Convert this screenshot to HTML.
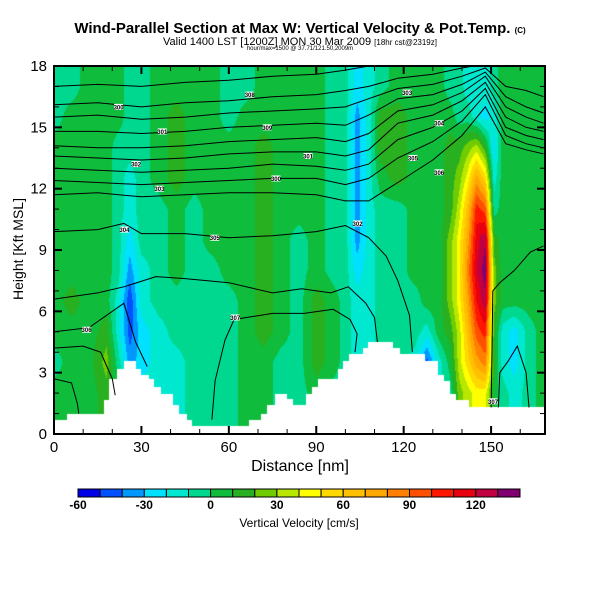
<!DOCTYPE html>
<html><head><meta charset="utf-8"><style>
body{margin:0;background:#fff;width:600px;height:600px;overflow:hidden;position:relative;font-family:"Liberation Sans",sans-serif}
.t{position:absolute;white-space:nowrap;color:#000}
</style></head><body>
<div class="t" style="left:0;width:600px;text-align:center;top:20px;font-size:15px;font-weight:bold">Wind-Parallel Section at Max W: Vertical Velocity &amp; Pot.Temp. <span style="font-size:8px">(C)</span></div>
<div class="t" style="left:0;width:600px;text-align:center;top:36px;font-size:11px">Valid 1400 LST [1200Z] MON 30 Mar 2009 <span style="font-size:8px">[18hr cst@2319z]</span></div>
<div class="t" style="left:0;width:600px;text-align:center;top:46px;font-size:6px">hour/max=1500 @ 37.71/121.50,2009m</div>
<canvas id="cv" width="491" height="368" style="position:absolute;left:54px;top:66px"></canvas>
<svg id="sv" width="600" height="600" style="position:absolute;left:0;top:0"><defs><clipPath id="pc"><rect x="54" y="66" width="491" height="368"/></clipPath></defs></svg>
<div class="t" style="left:-42px;top:241px;width:120px;text-align:center;transform:rotate(-90deg);font-size:14px">Height [Kft MSL]</div>
<div class="t" style="left:0;width:600px;text-align:center;top:458px;font-size:16px">Distance [nm]</div>
<div class="t" style="left:0;width:598px;text-align:center;top:516px;font-size:12px">Vertical Velocity [cm/s]</div>
<script>
const xs=[0,6,12,18,22,26,30,36,42,48,54,60,66,72,78,84,90,96,100,104,108,112,118,124,128,132,136,139,142,145,148,151,154,158,163,168];
const hs=[0,2,3.5,5,6.5,8,9.5,11,12.5,14,15.5,17,18];
const w0=[5,5,5,15,5,-15,-15,-15,-15,-5,-5,-5,5,5,-5,-5,5,-5,-5,-5,-5,-5,-5,-5,-15,-15,-5,25,35,45,45,5,-5,-15,-5,5];
const w2=[5,5,5,15,5,-15,-15,-15,-15,-5,-5,-5,5,5,-5,-5,5,-5,-5,-5,-5,-5,-5,-5,-15,-15,-5,25,35,45,45,5,-5,-15,-5,5];
const w35=[-5,5,5,25,-5,-35,-25,-15,-15,-5,-5,-5,5,5,-5,-5,15,5,-5,-15,-15,-5,-5,-15,-45,-15,5,35,55,75,85,15,-15,-25,-5,5];
const w5=[5,5,5,15,-15,-45,-25,-15,-5,-5,-5,-5,5,15,5,-5,15,5,-5,-15,-15,-5,-5,-5,-15,5,15,35,65,95,105,15,-15,-25,-5,5];
const w65=[5,15,5,5,-15,-48,-15,-5,-5,-5,-5,-5,5,15,5,-5,15,5,-5,-15,-15,-5,-5,-5,5,5,25,45,75,110,128,25,5,5,5,5];
const w8=[5,5,5,5,-5,-35,-15,-5,5,-5,-5,5,5,15,5,-5,5,-5,-5,-25,-15,-5,-5,5,5,5,25,45,85,120,136,25,5,5,5,5];
const w95=[5,5,5,5,-5,-25,-5,-5,5,-5,5,5,5,15,5,-5,5,-5,-5,-35,-15,-5,-5,5,5,5,25,45,75,115,130,15,5,5,5,5];
const w11=[5,5,5,5,-5,-15,-5,-5,5,-5,5,5,5,15,5,5,5,-5,-5,-35,-15,-5,-5,5,5,5,15,35,65,105,95,-5,5,5,5,5];
const w125=[5,5,5,5,-5,-15,-5,5,15,5,5,5,5,15,5,5,5,-5,-5,-35,-15,5,15,5,5,5,15,25,45,75,55,-15,5,5,5,5];
const w14=[5,5,5,5,-5,-5,-5,5,15,5,5,5,5,15,5,5,5,-5,-5,-35,-15,15,15,5,5,5,15,15,25,35,15,-25,5,5,5,5];
const w155=[-5,5,5,5,5,-5,-5,5,15,5,5,-5,5,5,5,5,5,-5,-5,-35,-15,15,15,5,5,5,5,-5,-5,-15,-25,-15,5,5,5,5];
const w17=[-5,-5,5,5,5,-5,-5,5,5,5,5,-5,-5,5,5,5,5,-5,-5,-25,-15,-5,5,5,5,5,-5,-5,-15,-15,-15,-5,5,5,5,5];
const w18=[-5,-5,5,5,5,-5,-5,5,5,5,5,-5,-5,5,5,5,5,-5,-5,-25,-15,-5,5,5,5,5,-5,-5,-15,-15,-15,-5,5,5,5,5];
const wRows=[w0,w2,w35,w5,w65,w8,w95,w11,w125,w14,w155,w17,w18];
const terrX=[0,4.3,17,19,21.5,24,28,30,32.6,34.3,36.6,41,43,45.5,47.5,67,71,73,75.7,80,82,86.5,88.7,90.7,97.3,99.3,101.3,105.9,107.9,116.4,118.7,127.3,131.9,133.8,135.9,138,142.5,168.5];
const terrH=[0.7,1.0,1.65,2.7,3.2,3.55,3.2,2.9,2.7,2.3,1.95,1.4,1.0,0.7,0.4,0.7,1.0,1.4,1.95,1.7,1.4,1.95,2.3,2.7,3.2,3.55,3.9,4.2,4.5,4.2,3.9,3.55,2.9,2.6,1.95,1.65,1.3,1.3];
const levels=[-60,-50,-40,-30,-20,-10,0,10,20,30,40,50,60,70,80,90,100,110,120,130,140];
const colors=["#0000e8","#0050ff","#0098ff","#00e0ff","#00e8d0","#00d890","#10bc3c","#28b020","#70cc00","#b8e800","#ffff00","#ffd800","#ffc000","#ffa800","#ff8000","#ff5000","#ff1800","#e80010","#c00040","#800070"];
const cbLabels=[-60,-30,0,30,60,90,120];
const xTicks=[0,30,60,90,120,150];
const yTicks=[0,3,6,9,12,15,18];
const contours=[
[[0,17.0],[15,17.1],[30,17.0],[45,17.2],[60,17.3],[75,17.5],[90,17.6],[100,17.8],[108,18],[118,18.3]],
[[0,16.1],[15,16.2],[30,16.0],[45,16.2],[60,16.3],[75,16.5],[90,16.6],[100,16.8],[108,17.0],[118,17.4],[130,17.6],[140,17.9],[148,18.1]],
[[0,15.5],[15,15.6],[30,15.4],[45,15.5],[60,15.7],[75,15.8],[90,15.9],[100,16.0],[108,16.4],[118,16.9],[130,17.1],[140,17.5],[148,17.9],[155,17.0],[162,16.8],[168,16.5]],
[[0,14.8],[15,14.8],[30,14.7],[45,14.8],[60,15.0],[75,15.1],[90,15.2],[100,15.1],[108,15.6],[118,16.4],[130,16.6],[140,17.1],[148,17.7],[155,16.5],[162,16.0],[168,15.7]],
[[0,14.1],[15,14.0],[30,14.0],[45,14.1],[60,14.3],[75,14.4],[90,14.5],[100,14.3],[108,14.7],[118,15.8],[130,16.1],[140,16.7],[148,17.5],[155,16.0],[162,15.5],[168,15.2]],
[[0,13.6],[15,13.5],[30,13.4],[45,13.5],[60,13.7],[75,13.8],[90,13.8],[100,13.6],[108,13.9],[118,15.2],[130,15.6],[140,16.3],[148,17.2],[155,15.5],[162,15.0],[168,14.8]],
[[0,13.0],[15,12.9],[30,12.8],[45,12.9],[60,13.0],[75,13.2],[90,13.1],[100,12.9],[108,13.2],[118,14.4],[130,15.0],[140,15.8],[148,16.9],[155,15.0],[162,14.6],[168,14.4]],
[[0,12.4],[15,12.3],[30,12.2],[45,12.3],[60,12.4],[75,12.5],[90,12.5],[100,12.2],[108,12.5],[118,13.5],[130,14.3],[140,15.3],[148,16.6],[155,14.6],[162,14.2],[168,14.0]],
[[0,11.7],[15,11.8],[30,11.6],[45,11.7],[60,11.8],[75,11.8],[90,11.7],[100,11.4],[108,11.4],[118,12.3],[130,13.4],[140,14.6],[148,16.0],[155,14.2],[162,13.9],[168,13.7]],
[[0,9.9],[15,10.0],[24,10.3],[30,9.8],[45,9.8],[60,9.6],[75,9.7],[90,9.9],[100,10.2],[108,9.6],[114,8.7],[118,7.5],[122,5.8],[123,4.0]],
[[0,6.6],[15,6.9],[24,7.2],[35,7.7],[45,7.6],[60,7.4],[75,6.9],[85,7.1],[95,6.9],[101,7.2],[107,6.4],[110,5.7],[111,4.5]],
[[0,5.0],[12,5.2],[24,6.4],[28,4.5],[32,3.3]],
[[0,4.2],[10,4.3],[16,4.0],[20,2.7],[21,1.9]],
[[0,2.7],[6,2.5],[8,1.5],[8.5,1.0]],
[[85.8,5.9],[75,5.9],[61.8,5.6],[58.7,4.6],[55.3,2.6],[54.2,0.7]],
[[85.8,5.9],[95.8,6.1],[101.6,5.6],[104,4.9],[103.3,4.0]],
[[150,1.3],[150.3,4],[150.6,7.0],[153,7.4],[158,8.0],[163.5,8.9],[168,9.2]],
[[163,1.3],[162,3],[159,4.3],[156,3.6],[153,3],[152.5,1.3]]
];
const labelPts=[[22,16.0],[37,14.8],[28,13.2],[36,12.0],[24,10.0],[55,9.6],[11,5.1],[62,5.7],[67,16.6],[73,15.0],[76,12.5],[87,13.6],[104,10.3],[121,16.7],[132,15.2],[123,13.5],[132,12.8],[150.5,1.6]];
const PX0=54,PX1=545,PY0=66,PY1=434,XMAX=168.5,YMAX=18;
function sx(v){return PX0+v/XMAX*(PX1-PX0);}
function sy(v){return PY1-v/YMAX*(PY1-PY0);}
function interp(arr,v){if(v<=arr[0])return 0;for(let i=0;i<arr.length-1;i++){if(v<=arr[i+1])return i+(v-arr[i])/(arr[i+1]-arr[i]);}return arr.length-1;}
function terrainAt(x){for(let i=terrX.length-2;i>=0;i--){if(x>=terrX[i])return terrH[i];}return terrH[0];}
const cv=document.getElementById('cv'),ctx=cv.getContext('2d');
const img=ctx.createImageData(491,368);
function hex(c){return [parseInt(c.substr(1,2),16),parseInt(c.substr(3,2),16),parseInt(c.substr(5,2),16)];}
const rgb=colors.map(hex);
for(let py=0;py<368;py++){const h=(368-py-0.5)/368*YMAX;const fy=interp(hs,h);const iy=Math.min(Math.floor(fy),hs.length-2),ty=fy-iy;
 for(let px=0;px<491;px++){const x=(px+0.5)/491*XMAX;const k=(py*491+px)*4;
  if(h<terrainAt(x)){img.data[k]=255;img.data[k+1]=255;img.data[k+2]=255;img.data[k+3]=255;continue;}
  const fx=interp(xs,x);const ix=Math.min(Math.floor(fx),xs.length-2),tx=fx-ix;
  const a=wRows[iy],b=wRows[iy+1];
  const v=(a[ix]*(1-tx)+a[ix+1]*tx)*(1-ty)+(b[ix]*(1-tx)+b[ix+1]*tx)*ty;
  let bi=Math.floor((v-levels[0])/10);bi=Math.max(0,Math.min(colors.length-1,bi));
  const c=rgb[bi];img.data[k]=c[0];img.data[k+1]=c[1];img.data[k+2]=c[2];img.data[k+3]=255;}}
ctx.putImageData(img,0,0);
const sv=document.getElementById('sv');const NS='http://www.w3.org/2000/svg';
function mk(t,at,parent){const e=document.createElementNS(NS,t);for(const k in at)e.setAttribute(k,at[k]);(parent||sv).appendChild(e);return e;}
const cg=mk('g',{'clip-path':'url(#pc)'});


contours.forEach((c,i)=>{const p=mk('polyline',{points:c.map(q=>sx(q[0]).toFixed(1)+','+sy(q[1]).toFixed(1)).join(' '),fill:'none',stroke:'#000','stroke-width':1},cg);

});
labelPts.forEach((q,i)=>{const r=mk('rect',{x:sx(q[0])-4,y:sy(q[1])-3,width:9,height:6,fill:'#fff'},cg);


const t=mk('text',{x:sx(q[0])+0.5,y:sy(q[1])+2.5,'font-size':6,'text-anchor':'middle','font-family':'Liberation Sans, sans-serif','font-weight':'bold'},cg);t.textContent='30'+(i%10);

});
const frame=mk('rect',{x:PX0,y:PY0,width:PX1-PX0,height:PY1-PY0,fill:'none',stroke:'#000','stroke-width':2});


for(let v=0;v<=168;v+=10){const L=(v%30===0)?8:5;const X=sx(v);mk('line',{x1:X,x2:X,y1:PY1,y2:PY1-L,stroke:'#000','stroke-width':(v%30===0)?2:1});mk('line',{x1:X,x2:X,y1:PY0,y2:PY0+L,stroke:'#000','stroke-width':(v%30===0)?2:1});}
for(let v=0;v<=18;v+=1){const L=(v%3===0)?8:5;const Y=sy(v);mk('line',{x1:PX0,x2:PX0+L,y1:Y,y2:Y,stroke:'#000','stroke-width':(v%3===0)?2:1});mk('line',{x1:PX1,x2:PX1-L,y1:Y,y2:Y,stroke:'#000','stroke-width':(v%3===0)?2:1});}
xTicks.forEach(v=>{const t=mk('text',{x:sx(v),y:452,'font-size':15,'text-anchor':'middle','font-family':'Liberation Sans, sans-serif'});t.textContent=v;

});
yTicks.forEach(v=>{const t=mk('text',{x:47,y:sy(v)+5,'font-size':15,'text-anchor':'end','font-family':'Liberation Sans, sans-serif'});t.textContent=v;

});
const CB0=78,CB1=520;const bw=(CB1-CB0)/colors.length;
colors.forEach((c,i)=>{const r=mk('rect',{x:CB0+i*bw,y:489,width:bw,height:8,fill:c,stroke:'#000','stroke-width':1});

});
cbLabels.forEach(v=>{const t=mk('text',{x:CB0+(v-levels[0])/10*bw,y:509,'font-size':12,'text-anchor':'middle','font-family':'Liberation Sans, sans-serif','font-weight':'bold'});t.textContent=v;

});
</script>
</body></html>
